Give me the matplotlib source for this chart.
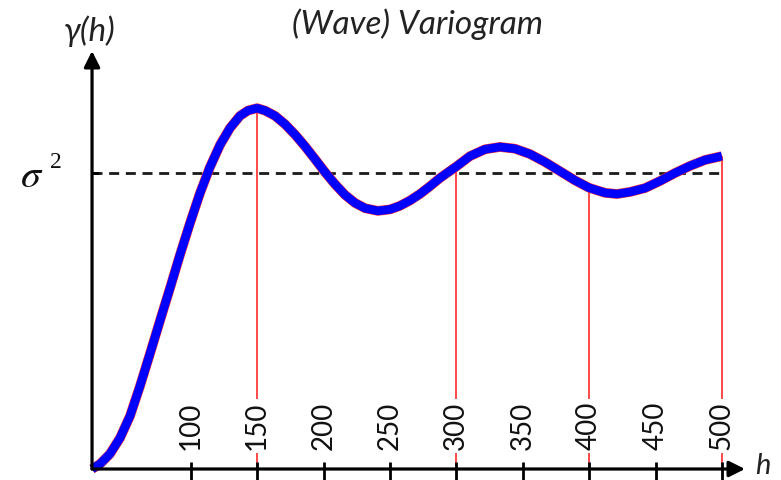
import matplotlib
matplotlib.use("Agg")
import matplotlib.pyplot as plt

# Lag distance h and semivariance gamma(h), expressed in units of the sill
lag = [25.7, 31.7, 39.2, 46.8, 54.3, 61.8, 69.3, 76.8, 84.4, 91.9, 99.5, 107.0,
       114.5, 122.1, 129.6, 137.1, 143.1, 150.0, 155.9, 163.5, 171.0, 178.5, 186.1,
       193.6, 201.1, 208.7, 216.2, 223.7, 231.3, 241.0, 250.1, 257.5, 265.1, 272.6,
       280.1, 287.7, 300.0, 310.3, 321.6, 332.9, 344.2, 355.5, 366.8, 378.1, 389.4,
       400.0, 412.0, 421.0, 430.8, 442.1, 453.4, 464.7, 476.0, 487.3, 500.0]
gamma = [0.000, 0.017, 0.051, 0.105, 0.179, 0.280, 0.389, 0.500, 0.611, 0.723, 0.831, 0.932,
         1.020, 1.095, 1.152, 1.193, 1.211, 1.219, 1.211, 1.193, 1.165, 1.130, 1.090,
         1.047, 1.003, 0.962, 0.926, 0.899, 0.881, 0.872, 0.877, 0.889, 0.907, 0.929,
         0.955, 0.983, 1.022, 1.057, 1.080, 1.088, 1.082, 1.064, 1.037, 1.006, 0.975,
         0.950, 0.933, 0.929, 0.936, 0.949, 0.973, 1.000, 1.024, 1.044, 1.057]
sill = 1.0
marked_lags = [150.0, 300.0, 400.0, 500.0]
tick_values = [100, 150, 200, 250, 300, 350, 400, 450, 500]

W, H = 781, 480
fig = plt.figure(figsize=(W / 100, H / 100), dpi=100)
ax = fig.add_axes([0, 0, 1, 1])
ax.set_axis_off()

# scale: 1.328 px per unit of h, 296 px per unit of gamma
XPX, YPX = 1.328, 296.0
X0PX, Y0PX = 190.7 - 100 * XPX, 469.0   # pixel position of h=0 and gamma=0


def hx(px):
    return (px - X0PX) / XPX


def gy(py):
    return (Y0PX - py) / YPX


ax.set_xlim(hx(0), hx(W))
ax.set_ylim(gy(H), gy(0))

h0 = lag[0]
# axes with arrow heads
arrow = dict(arrowstyle="-|>", lw=2.3, color="black", mutation_scale=24,
             shrinkA=0, shrinkB=0)
ax.annotate("", xy=(hx(745), 0), xytext=(h0, 0), arrowprops=arrow, zorder=5)
ax.annotate("", xy=(h0, gy(51)), xytext=(h0, 0), arrowprops=arrow, zorder=5)

# tick marks across the h axis and on the gamma axis at the sill
ax.vlines(tick_values, gy(462), gy(485), color="black", lw=2.0, zorder=5)
ax.hlines(sill, h0, hx(99), color="black", lw=2.0, zorder=5)

# sill
ax.hlines(sill, h0, 500, colors="#1a1a1a", lw=2.0, linestyles=(0, (3.6, 2.4)), zorder=2)

# red drop lines from the axis to the curve
for h in marked_lags:
    g = gamma[lag.index(h)]
    ax.vlines(h, 0, g, colors="#ff2a2a", lw=1.2, zorder=3)

# variogram curve
ax.plot(lag, gamma, color="#ff3030", lw=7.0, solid_capstyle="butt",
        solid_joinstyle="round", zorder=4)
ax.plot(lag, gamma, color="#0000ff", lw=6.2, solid_capstyle="butt",
        solid_joinstyle="round", zorder=4)

# tick labels inside the plot, above the axis
for t in tick_values:
    ax.text(t, gy(450), str(t), rotation=90, ha="center", va="bottom",
            fontsize=20, family="Lato", color="#111111", zorder=6,
            bbox=dict(facecolor="white", edgecolor="none", pad=2))

ax.text(hx(417), gy(24), "(Wave) Variogram", ha="center", va="center",
        fontsize=24, family="Lato", style="italic", color="#222222")
ax.text(hx(90), gy(31), "γ(h)", ha="center", va="center",
        fontsize=24, family="Lato", style="italic", color="#222222")
ax.text(hx(763), gy(466), "h", ha="center", va="center",
        fontsize=21, family="Lato", style="italic", color="#222222")
plt.rcParams["mathtext.fontset"] = "stix"
ax.text(hx(32), gy(176), r"$\sigma$", ha="center", va="center",
        fontsize=29, color="#111111")
ax.text(hx(56), gy(163), "2", ha="center", va="center",
        fontsize=17, family="Liberation Serif", color="#111111")

fig.savefig("out.png", dpi=100)
